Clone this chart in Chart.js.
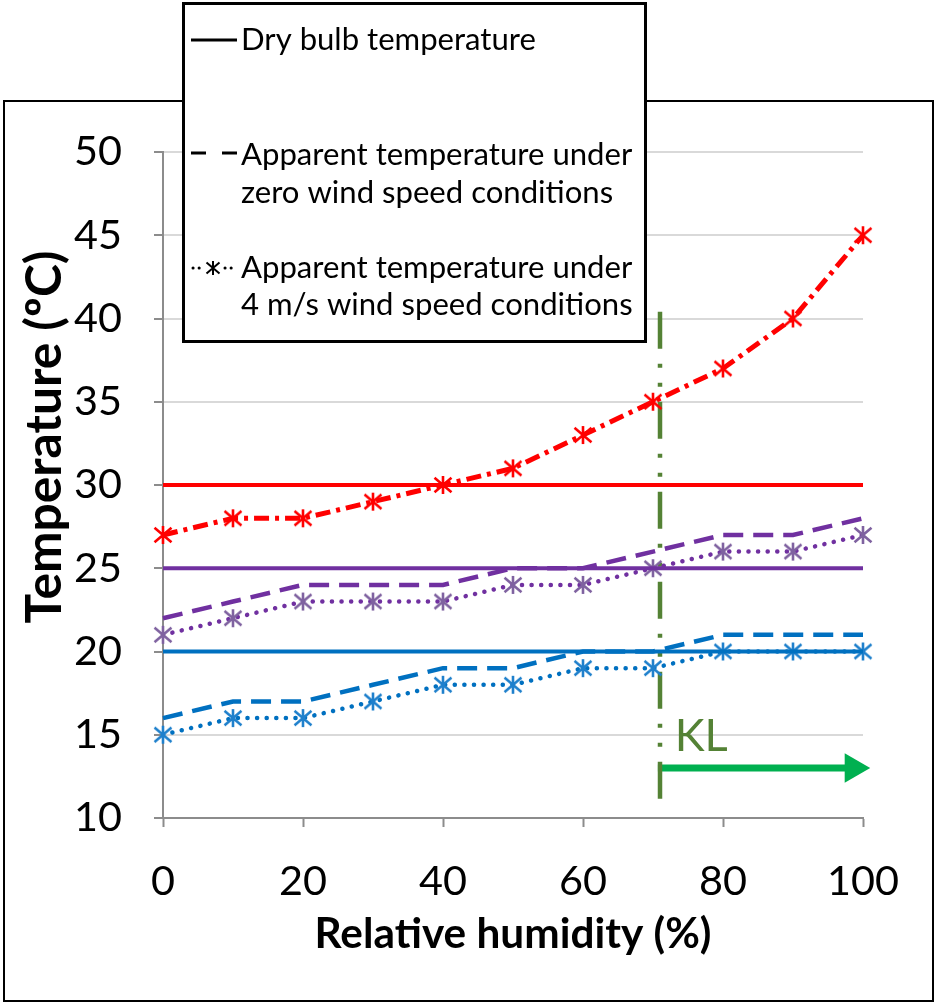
<!DOCTYPE html>
<html><head><meta charset="utf-8">
<script src="https://cdn.jsdelivr.net/npm/chart.js@4/dist/chart.umd.min.js"></script>
<style>html,body{margin:0;padding:0;background:#fff}#wrap{position:relative;width:936px;height:1004px}canvas{display:block}</style>
</head><body><div id="wrap"><canvas id="c" width="936" height="1004"></canvas></div>
<script>
// ---------------- data ----------------
const humidity = [0,10,20,30,40,50,60,70,80,90,100];
const redApparent    = [27,28,28,29,30,31,33,35,37,40,45];
const purpleZeroWind = [22,23,24,24,24,25,25,26,27,27,28];
const purpleWind4    = [21,22,23,23,23,24,24,25,26,26,27];
const blueZeroWind   = [16,17,17,18,19,19,20,20,21,21,21];
const blueWind4      = [15,16,16,17,18,18,19,19,20,20,20];
const redDryBulb     = [30,30,30,30,30,30,30,30,30,30,30];
const purpleDryBulb  = [25,25,25,25,25,25,25,25,25,25,25];
const blueDryBulb    = [20,20,20,20,20,20,20,20,20,20,20];
const klLineX = [71,71];
const klLineY = [40.4,10.8];
const klArrowX = [70.7,98.6];
const klArrowY = [13,13];
const xTickValues = [0,20,40,60,80,100];
const yTickValues = [10,15,20,25,30,35,40,45,50];
const legendLabels = [["Dry bulb temperature"],["Apparent temperature under","zero wind speed conditions"],["Apparent temperature under","4 m/s wind speed conditions"]];
const xTitle = "Relative humidity (%)";
const yTitle = "Temperature (\u00BAC)";
const klLabel = "KL";

// ---------------- helpers ----------------
const FAM = 'Lato, "Open Sans", sans-serif';
const mctx = document.createElement('canvas').getContext('2d');
function fit(text, weight, target){ mctx.font = weight+' 100px '+FAM; return 100*target/mctx.measureText(text).width; }
function pts(xs, ys){ return xs.map((x,i)=>({x:x,y:ys[i]})); }
function starMarker(color, s, rx, ry, lw){
  s=s||24; rx=rx||8.5; ry=ry||9; lw=lw||2.6;
  const c=document.createElement('canvas'); c.width=s; c.height=s;
  const g=c.getContext('2d'); g.strokeStyle=color; g.lineWidth=lw; g.lineCap='butt';
  const m=s/2;
  g.beginPath();
  g.moveTo(m-rx,m-ry*0.8); g.lineTo(m+rx,m+ry*0.8);
  g.moveTo(m+rx,m-ry*0.8); g.lineTo(m-rx,m+ry*0.8);
  g.moveTo(m,m-ry); g.lineTo(m,m+ry);
  g.stroke();
  return c;
}
const RED='#FF0000', PURPLE='#7030A0', BLUE='#0070C0', OLIVE='#548235', GREEN='#00B050';
const tickSize = fit('100','normal',72);
const legendSize = fit(legendLabels[1][0],'normal',391);
const xTitleSize = fit(xTitle,'bold',397);
const yTitleSize = fit(yTitle,'bold',373);

function line(data, color, dash, extra){
  return Object.assign({data:data, borderColor:color, backgroundColor:color, borderWidth:4, borderDash:dash,
    pointRadius:0, fill:false, tension:0, borderCapStyle:'butt', clip:false}, extra||{});
}
const redStar = starMarker(RED), purpleStar = starMarker('#7F62A0'), blueStar = starMarker('#1F80CC');

const datasets = [
  line(pts(humidity,blueDryBulb), BLUE, []),
  line(pts(humidity,purpleDryBulb), PURPLE, []),
  line(pts(humidity,redDryBulb), RED, []),
  line(pts(humidity,blueZeroWind), BLUE, [20,10], {borderWidth:4.5}),
  line(pts(humidity,purpleZeroWind), PURPLE, [20,10], {borderWidth:4.5}),
  line(pts(humidity,blueWind4), BLUE, [0.1,9.5], {borderWidth:4.5, borderCapStyle:'round', pointStyle:blueStar, pointRadius:10}),
  line(pts(humidity,purpleWind4), PURPLE, [0.1,9.5], {borderWidth:4.5, borderCapStyle:'round', pointStyle:purpleStar, pointRadius:10}),
  line(pts(humidity,redApparent), RED, [15,6,4,6], {borderWidth:5, pointStyle:redStar, pointRadius:10}),
  line(pts(klLineX,klLineY), OLIVE, [37,15,4,15,4,15], {borderWidth:4.5}),
  line(pts(klArrowX,klArrowY), GREEN, [], {borderWidth:7, pointStyle:'triangle', pointRotation:90, pointRadius:[0,17], pointBorderWidth:0, pointBackgroundColor:GREEN})
];

const decor = {
  id:'decor',
  beforeDraw(chart){
    const ctx=chart.ctx; ctx.save();
    ctx.fillStyle='#fff'; ctx.fillRect(0,0,chart.width,chart.height);
    ctx.strokeStyle='#000'; ctx.lineWidth=2; ctx.strokeRect(4,101,929,900);
    ctx.restore();
  },
  afterDraw(chart){
    const ctx=chart.ctx; ctx.save();
    const xs=chart.scales.x, ys=chart.scales.y;
    // y axis title
    ctx.save();
    ctx.translate(45, 437); ctx.rotate(-Math.PI/2);
    ctx.fillStyle='#000'; ctx.font='bold '+yTitleSize.toFixed(1)+'px '+FAM;
    ctx.textAlign='center'; ctx.textBaseline='middle';
    ctx.fillText(yTitle,0,0);
    ctx.restore();
    // KL label
    ctx.fillStyle=OLIVE; ctx.font='normal '+(legendSize*1.45).toFixed(1)+'px '+FAM;
    ctx.textBaseline='alphabetic'; ctx.textAlign='left';
    ctx.fillText(klLabel, xs.getPixelForValue(73.1), ys.getPixelForValue(14.0));
    // legend box
    ctx.fillStyle='#fff'; ctx.fillRect(183,3,462,338);
    ctx.strokeStyle='#000'; ctx.lineWidth=3; ctx.strokeRect(183.5,3.5,462,338);
    ctx.fillStyle='#000'; ctx.font='normal '+legendSize.toFixed(1)+'px '+FAM; ctx.textBaseline='middle';
    const rows=[[40],[155,193],[268,305]];
    legendLabels.forEach((lines,i)=>lines.forEach((t,j)=>ctx.fillText(t,241,rows[i][j])));
    ctx.strokeStyle='#000'; ctx.lineWidth=3;
    ctx.beginPath(); ctx.moveTo(191,40); ctx.lineTo(237,40); ctx.stroke();
    ctx.beginPath(); ctx.moveTo(191,153); ctx.lineTo(206,153); ctx.moveTo(222,153); ctx.lineTo(237,153); ctx.stroke();
    ctx.lineWidth=3; ctx.lineCap='round'; ctx.setLineDash([0.1,6]);
    ctx.beginPath(); ctx.moveTo(193,268); ctx.lineTo(201,268); ctx.moveTo(225,268); ctx.lineTo(233,268); ctx.stroke();
    ctx.setLineDash([]);
    ctx.drawImage(starMarker('#000',18,6.5,7,2),204,259);
    ctx.restore();
  }
};

new Chart(document.getElementById('c'), {
  type:'line',
  data:{datasets:datasets},
  options:{
    responsive:false, animation:false, devicePixelRatio:1,
    layout:{padding:{left:0,top:152,right:73,bottom:44}},
    plugins:{legend:{display:false}, tooltip:{enabled:false}},
    scales:{
      x:{type:'linear', min:0, max:100,
        afterFit(s){ s.height=142; },
        afterBuildTicks(s){ s.ticks=xTickValues.map(v=>({value:v})); },
        grid:{drawOnChartArea:false, drawTicks:true, tickLength:9, tickColor:'#8C8C8C', tickWidth:2},
        border:{color:'#8C8C8C', width:2},
        ticks:{font:{family:FAM,size:tickSize}, color:'#000', padding:30, maxRotation:0},
        title:{display:true, text:xTitle, font:{family:FAM,size:xTitleSize,weight:'bold'}, color:'#000', padding:{top:6,bottom:0}}
      },
      y:{type:'linear', min:10, max:50,
        afterFit(s){ s.width=163; },
        afterBuildTicks(s){ s.ticks=yTickValues.map(v=>({value:v})); },
        grid:{drawOnChartArea:true, color:'#D9D9D9', lineWidth:2, drawTicks:true, tickLength:9, tickColor:'#8C8C8C', tickWidth:2},
        border:{color:'#8C8C8C', width:2},
        ticks:{font:{family:FAM,size:tickSize}, color:'#000', padding:32},
        title:{display:false}
      }
    }
  },
  plugins:[decor]
});
</script></body></html>
